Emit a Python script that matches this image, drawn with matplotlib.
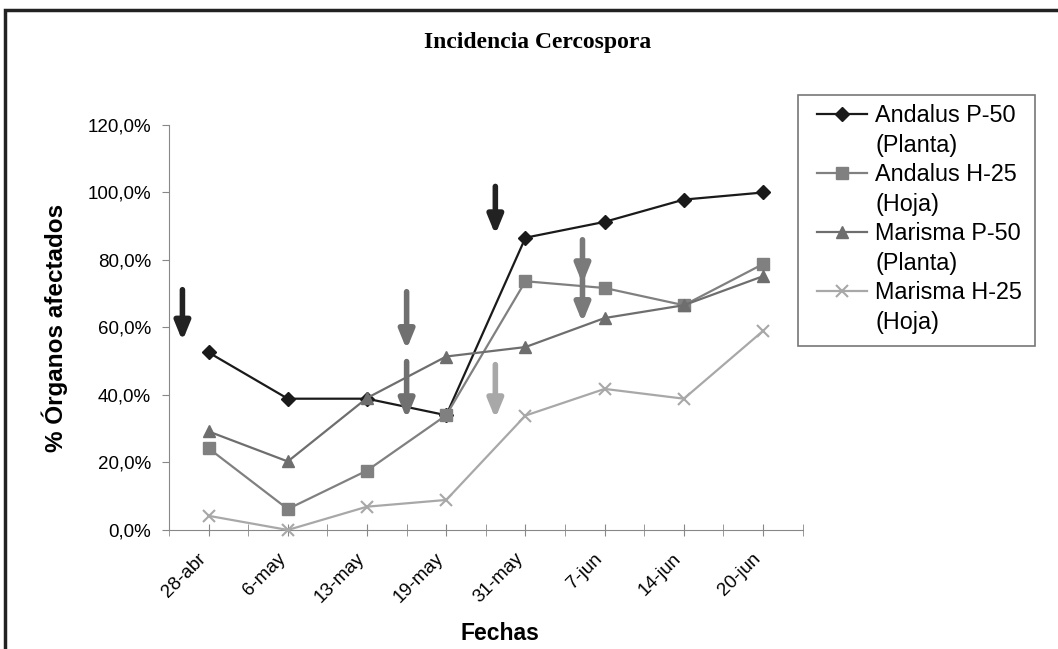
import numpy as np
import matplotlib
matplotlib.use('Agg')
import matplotlib.pyplot as plt
import matplotlib.transforms as mtransforms
from matplotlib.lines import Line2D
from matplotlib.patches import Rectangle

plt.rcParams['font.family'] = ['Liberation Sans', 'DejaVu Sans']

fechas = ['28-abr', '6-may', '13-may', '19-may', '31-may', '7-jun', '14-jun', '20-jun']
andalus_p50 = [52.6, 38.9, 38.9, 34.0, 86.6, 91.3, 97.9, 100.0]
andalus_h25 = [24.2, 6.2, 17.6, 34.0, 73.7, 71.7, 66.6, 78.8]
marisma_p50 = [29.2, 20.3, 39.1, 51.4, 54.2, 62.8, 66.6, 75.2]
marisma_h25 = [4.2, 0.0, 6.9, 8.9, 33.9, 41.8, 38.9, 59.0]

# treatment arrows: (x position, y start, y end, colour)
flechas = [(-0.33, 71.2, 56.0, '#222222'),
           (2.5, 70.6, 53.5, '#707070'),
           (2.5, 49.9, 33.0, '#707070'),
           (3.62, 101.8, 87.5, '#222222'),
           (4.72, 86.0, 73.0, '#7a7a7a'),
           (4.72, 76.0, 61.5, '#7a7a7a'),
           (3.62, 49.0, 33.0, '#a8a8a8')]

series = [('Andalus P-50', '(Planta)', andalus_p50, '#1a1a1a', 'D', 7),
          ('Andalus H-25', '(Hoja)', andalus_h25, '#808080', 's', 8),
          ('Marisma P-50', '(Planta)', marisma_p50, '#6e6e6e', '^', 9),
          ('Marisma H-25', '(Hoja)', marisma_h25, '#a8a8a8', 'x', 8)]

fig = plt.figure(figsize=(10.58, 6.49), dpi=100)
ax = fig.add_axes([0.1597, 0.1834, 0.599, 0.624])

x = np.arange(len(fechas))
handles = []
labels = []
for name, sub, vals, col, mk, ms in series:
    ln, = ax.plot(x, np.array(vals) / 100, color=col, marker=mk, markersize=ms,
                  linewidth=1.6, markeredgewidth=1.5 if mk == 'x' else 1,
                  markeredgecolor=col, clip_on=False, zorder=3)
    handles.append(ln)
    labels.append(name)
    handles.append(Line2D([], [], color='none'))
    labels.append(sub)

for fx, y0, y1, col in flechas:
    ax.annotate('', xy=(fx, y1 / 100), xytext=(fx, y0 / 100),
                arrowprops=dict(arrowstyle='-|>,head_width=0.45,head_length=1.1',
                                color=col, lw=4, shrinkA=0, shrinkB=0),
                annotation_clip=False, zorder=4)

ax.set_xlim(-0.5, len(fechas) - 0.5)
ax.set_ylim(0, 1.2)
ax.set_yticks(np.arange(0, 1.21, 0.2))
ax.set_yticklabels([('%.1f%%' % (v * 100)).replace('.', ',') for v in np.arange(0, 1.21, 0.2)],
                   fontsize=13.5)
ax.set_xticks(x)
ax.set_xticks(np.arange(-0.5, len(fechas), 1.0), minor=True)
ax.set_xticklabels([])
# date labels sit a little left of their tick, as in the original
shift = mtransforms.ScaledTranslation(-11 / 100, -20 / 100, fig.dpi_scale_trans)
for i, f in enumerate(fechas):
    ax.text(i, 0, f, transform=ax.get_xaxis_transform() + shift, rotation=45,
            ha='right', va='top', rotation_mode='anchor', fontsize=13.5)
ax.tick_params(axis='x', which='both', length=9, direction='inout', color='#888888')
ax.tick_params(axis='y', length=5, color='#888888', pad=8)
for s in ['top', 'right']:
    ax.spines[s].set_visible(False)
for s in ['left', 'bottom']:
    ax.spines[s].set_color('#888888')

ax.set_xlabel('Fechas', fontsize=16.5, fontweight='bold')
ax.xaxis.set_label_coords(0.522, -0.228)
ax.set_ylabel('% Órganos afectados', fontsize=17.5, fontweight='bold', labelpad=14)

fig.text(0.508, 0.935, 'Incidencia Cercospora', ha='center', va='center',
         fontsize=17, fontweight='bold', family='Liberation Serif')

leg = fig.legend(handles, labels, loc='upper left', bbox_to_anchor=(0.7722, 0.8398),
                 fontsize=16.8, frameon=False, handlelength=2.15, labelspacing=0.28,
                 borderpad=0, handletextpad=0.34, borderaxespad=0)
fig.patches.append(Rectangle((0.7543, 0.4669), 0.224, 0.3867, transform=fig.transFigure,
                             fill=False, edgecolor='#777777', linewidth=1.2))

fig.patches.append(Rectangle((0.005, -0.1), 1.2, 1.085, transform=fig.transFigure,
                             fill=False, edgecolor='#222222', linewidth=2.5))

fig.savefig('out.png', dpi=100)
